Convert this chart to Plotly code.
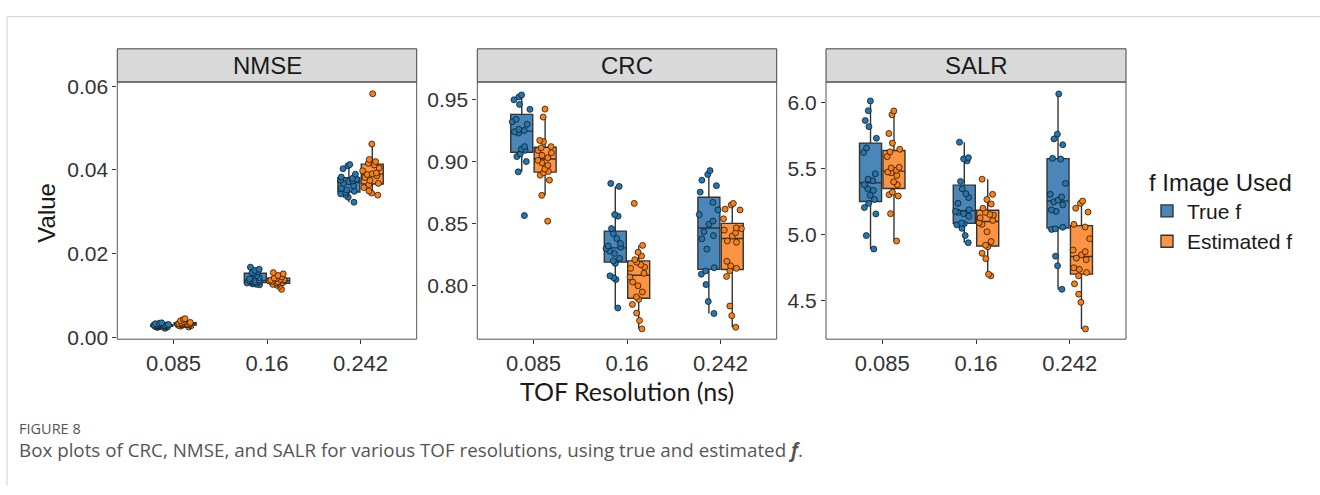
import plotly.graph_objects as go

W, H = 1320, 495

categories = ["0.085", "0.16", "0.242"]
series_names = ["True f", "Estimated f"]
metrics = ["NMSE", "CRC", "SALR"]

# ---- NMSE ----
nmse_true_085 = [0.0022, 0.0024, 0.0025, 0.0026, 0.0026, 0.0027, 0.0027, 0.0028, 0.0028, 0.0029,
                 0.0029, 0.0030, 0.0030, 0.0031, 0.0032, 0.0033, 0.0034, 0.0035, 0.0027, 0.0030]
nmse_est_085 = [0.0025, 0.0027, 0.0028, 0.0029, 0.0030, 0.0030, 0.0031, 0.0031, 0.0032, 0.0032,
                0.0033, 0.0033, 0.0034, 0.0035, 0.0036, 0.0038, 0.0040, 0.0043, 0.0045, 0.0031]
nmse_true_16 = [0.0126, 0.0127, 0.0128, 0.0130, 0.0131, 0.0132, 0.0133, 0.0134, 0.0135, 0.0136,
                0.0137, 0.0140, 0.0143, 0.0148, 0.0152, 0.0155, 0.0157, 0.0160, 0.0163, 0.0168]
nmse_est_16 = [0.0115, 0.0122, 0.0125, 0.0127, 0.0129, 0.0130, 0.0131, 0.0133, 0.0134, 0.0135,
               0.0136, 0.0137, 0.0138, 0.0139, 0.0141, 0.0142, 0.0145, 0.0148, 0.0152, 0.0155]
nmse_true_242 = [0.0323, 0.0335, 0.0340, 0.0343, 0.0346, 0.0349, 0.0352, 0.0356, 0.0362, 0.0368,
                 0.0372, 0.0374, 0.0376, 0.0378, 0.0380, 0.0383, 0.0390, 0.0403, 0.0410, 0.0413]
nmse_est_242 = [0.0340, 0.0345, 0.0350, 0.0358, 0.0365, 0.0368, 0.0375, 0.0382, 0.0386, 0.0389,
                0.0391, 0.0393, 0.0398, 0.0405, 0.0412, 0.0416, 0.0420, 0.0425, 0.0462, 0.0582]

# ---- CRC ----
crc_true_085 = [0.8565, 0.8917, 0.900, 0.904, 0.906, 0.909, 0.910, 0.912, 0.923, 0.924,
                0.925, 0.926, 0.930, 0.932, 0.934, 0.942, 0.946, 0.9497, 0.952, 0.9536]
crc_est_085 = [0.852, 0.8728, 0.885, 0.889, 0.891, 0.892, 0.894, 0.897, 0.899, 0.901,
               0.903, 0.905, 0.907, 0.909, 0.911, 0.912, 0.916, 0.917, 0.9358, 0.9422]
crc_true_16 = [0.7821, 0.8051, 0.8065, 0.808, 0.818, 0.820, 0.822, 0.826, 0.828, 0.830,
               0.831, 0.832, 0.834, 0.838, 0.842, 0.846, 0.856, 0.8573, 0.880, 0.8824]
crc_est_16 = [0.7653, 0.772, 0.778, 0.785, 0.789, 0.791, 0.795, 0.800, 0.803, 0.807,
              0.810, 0.814, 0.815, 0.817, 0.819, 0.821, 0.824, 0.827, 0.8325, 0.8663]
crc_true_242 = [0.7777, 0.7873, 0.8010, 0.8093, 0.8119, 0.8145, 0.8295, 0.8378, 0.8404, 0.8435,
                0.8495, 0.8521, 0.8573, 0.8611, 0.8671, 0.8754, 0.8806, 0.8850, 0.8896, 0.8927]
crc_est_242 = [0.7666, 0.7759, 0.7837, 0.8075, 0.8122, 0.8140, 0.8160, 0.8197, 0.8350, 0.8360,
               0.8400, 0.8427, 0.8448, 0.8460, 0.8466, 0.8539, 0.8610, 0.8617, 0.8650, 0.8663]

# ---- SALR ----
salr_true_085 = [4.893, 4.995, 5.159, 5.207, 5.239, 5.268, 5.300, 5.337, 5.349, 5.380,
                 5.410, 5.422, 5.463, 5.624, 5.659, 5.732, 5.820, 5.866, 5.941, 6.015]
salr_est_085 = [4.954, 5.161, 5.295, 5.305, 5.324, 5.380, 5.402, 5.451, 5.470, 5.476,
                5.490, 5.507, 5.512, 5.593, 5.629, 5.649, 5.695, 5.768, 5.910, 5.939]
salr_true_16 = [4.941, 4.995, 5.050, 5.076, 5.085, 5.090, 5.140, 5.161, 5.171, 5.178,
                5.190, 5.240, 5.283, 5.312, 5.349, 5.405, 5.561, 5.576, 5.585, 5.702]
salr_est_16 = [4.690, 4.702, 4.820, 4.861, 4.910, 4.922, 4.950, 5.024, 5.080, 5.093,
               5.110, 5.129, 5.150, 5.154, 5.171, 5.202, 5.234, 5.268, 5.307, 5.422]
salr_true_242 = [4.588, 4.766, 4.839, 5.041, 5.046, 5.058, 5.178, 5.190, 5.227, 5.250,
                 5.263, 5.288, 5.307, 5.390, 5.575, 5.580, 5.683, 5.727, 5.763, 6.068]
salr_est_242 = [4.288, 4.490, 4.551, 4.629, 4.690, 4.715, 4.739, 4.751, 4.812, 4.824,
                4.849, 4.873, 4.885, 4.971, 5.060, 5.080, 5.173, 5.202, 5.239, 5.256]

data = {
    "NMSE": ([nmse_true_085, nmse_true_16, nmse_true_242], [nmse_est_085, nmse_est_16, nmse_est_242]),
    "CRC": ([crc_true_085, crc_true_16, crc_true_242], [crc_est_085, crc_est_16, crc_est_242]),
    "SALR": ([salr_true_085, salr_true_16, salr_true_242], [salr_est_085, salr_est_16, salr_est_242]),
}

y_ranges = {"NMSE": [-0.0004, 0.0610], "CRC": [0.757, 0.964], "SALR": [4.21, 6.158]}
y_ticks = {"NMSE": [0.00, 0.02, 0.04, 0.06], "CRC": [0.80, 0.85, 0.90, 0.95], "SALR": [4.5, 5.0, 5.5, 6.0]}
y_fmt = {"NMSE": ".2f", "CRC": ".2f", "SALR": ".1f"}

point_colors = ["#1f77b4", "#ff7f0e"]
box_fills = ["#4b86b8", "#fd9443"]

# pixel layout
panel_x = [(117.3, 416.7), (477.3, 776.7), (826.0, 1126.0)]
plot_top, plot_bot = 77.7, 344.0
strip_top = 43.3

def px(x):
    return x / W

def py(y):
    return 1 - y / H

fig = go.Figure()
TXT = "Liberation Sans, Arial, sans-serif"

for i, m in enumerate(metrics):
    ax = "" if i == 0 else str(i + 1)
    for s in range(2):
        xs, ys = [], []
        for c, cat in enumerate(categories):
            vals = data[m][s][c]
            xs += [cat] * len(vals)
            ys += vals
        fig.add_trace(go.Box(
            x=xs, y=ys, name=series_names[s],
            legendgroup=series_names[s], showlegend=(i == 0),
            offsetgroup=str(s), alignmentgroup="a",
            boxpoints="all", jitter=0.9, pointpos=0,
            whiskerwidth=0,
            fillcolor=box_fills[s],
            line=dict(color="#333333", width=1.4),
            marker=dict(color=point_colors[s], size=6,
                        line=dict(color="#1a1a1a", width=0.8)),
            xaxis="x" + ax, yaxis="y" + ax,
        ))

    x0, x1 = panel_x[i]
    fig.layout["xaxis" + ax] = dict(
        domain=[px(x0), px(x1)], anchor="y" + ax, type="category",
        categoryorder="array", categoryarray=categories,
        range=[-0.6, 2.6], showgrid=False, zeroline=False,
        showline=False, ticks="outside", ticklen=4, tickcolor="#333333",
        tickwidth=1, tickfont=dict(family=TXT, size=22, color="#333333"),
    )
    fig.layout["yaxis" + ax] = dict(
        domain=[py(plot_bot), py(plot_top)], anchor="x" + ax,
        range=y_ranges[m], tickvals=y_ticks[m], tickformat=y_fmt[m],
        showgrid=False, zeroline=False, showline=False,
        ticks="outside", ticklen=4, tickcolor="#333333", tickwidth=1,
        tickfont=dict(family=TXT, size=21, color="#333333"),
    )

shapes = []
annotations = []
for i, m in enumerate(metrics):
    x0, x1 = panel_x[i]
    # strip
    shapes.append(dict(type="rect", xref="paper", yref="paper",
                       x0=px(x0), x1=px(x1), y0=py(plot_top), y1=py(strip_top),
                       fillcolor="#d9d9d9", line=dict(color="#444444", width=1), layer="below"))
    # panel border
    shapes.append(dict(type="rect", xref="paper", yref="paper",
                       x0=px(x0), x1=px(x1), y0=py(plot_bot), y1=py(plot_top),
                       fillcolor="rgba(0,0,0,0)", line=dict(color="#555555", width=1), layer="above"))
    annotations.append(dict(text=m, xref="paper", yref="paper",
                            x=px((x0 + x1) / 2), y=py((strip_top + plot_top) / 2),
                            showarrow=False, xanchor="center", yanchor="middle",
                            font=dict(family=TXT, size=24, color="#1a1a1a")))

# outer figure frame (top and left visible)
shapes.append(dict(type="line", xref="paper", yref="paper", x0=px(7), x1=1.0, y0=py(10), y1=py(10),
                   line=dict(color="#d0d0d0", width=1)))
shapes.append(dict(type="line", xref="paper", yref="paper", x0=px(7), x1=px(7), y0=py(10), y1=0.0,
                   line=dict(color="#d0d0d0", width=1)))

annotations.append(dict(text="Value", xref="paper", yref="paper", x=px(47), y=py(213),
                        textangle=-90, showarrow=False, xanchor="center", yanchor="middle",
                        font=dict(family=TXT, size=24, color="#1a1a1a")))
annotations.append(dict(text="TOF Resolution (ns)", xref="paper", yref="paper", x=px(627), y=py(398),
                        showarrow=False, xanchor="center", yanchor="middle",
                        font=dict(family="Lato, Open Sans, sans-serif", size=25, color="#1a1a1a")))
annotations.append(dict(text="FIGURE 8", xref="paper", yref="paper", x=px(17), y=py(436),
                        showarrow=False, xanchor="left", yanchor="middle",
                        font=dict(family="Open Sans, sans-serif", size=14.5, color="#555555")))
annotations.append(dict(text="Box plots of CRC, NMSE, and SALR for various TOF resolutions, using true and estimated <b><i>f</i></b>.",
                        xref="paper", yref="paper", x=px(17), y=py(459),
                        showarrow=False, xanchor="left", yanchor="middle",
                        font=dict(family="Open Sans, sans-serif", size=18.8, color="#555555")))

fig.update_layout(
    width=W, height=H, autosize=False,
    margin=dict(l=0, r=0, t=0, b=0),
    paper_bgcolor="white", plot_bgcolor="white",
    boxmode="group", boxgap=0.5, boxgroupgap=0.06,
    shapes=shapes, annotations=annotations,
    legend=dict(x=px(1147), y=py(158), xanchor="left", yanchor="top",
                title=dict(text="f Image Used", font=dict(family=TXT, size=24, color="#1a1a1a")),
                font=dict(family=TXT, size=21, color="#1a1a1a"),
                bgcolor="rgba(0,0,0,0)", tracegroupgap=0),
    showlegend=True,
)

fig.write_html("out.html")
